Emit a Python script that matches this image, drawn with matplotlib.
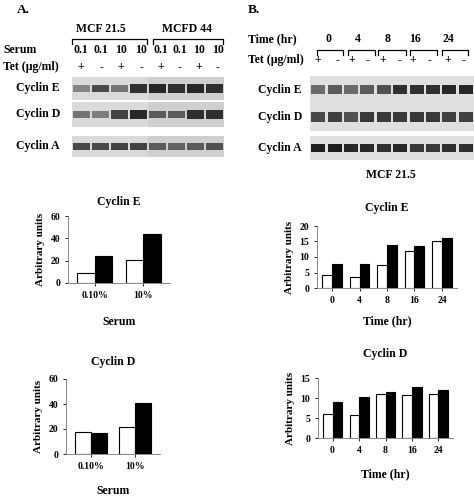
import matplotlib
matplotlib.use("Agg")
import matplotlib.pyplot as plt
import numpy as np

plt.rcParams['font.family'] = ['Liberation Serif', 'DejaVu Serif']
plt.rcParams['font.weight'] = 'bold'

# bar chart data
serum_labels = ['0.10%', '10%']
a_cycE_tet_plus = [9, 21]
a_cycE_tet_minus = [24, 44]
a_cycD_tet_plus = [18, 22]
a_cycD_tet_minus = [17, 41]

time_labels = ['0', '4', '8', '16', '24']
b_cycE_tet_plus = [4.2, 3.6, 7.3, 12, 15]
b_cycE_tet_minus = [7.6, 7.6, 14, 13.5, 16]
b_cycD_tet_plus = [6, 5.7, 11, 10.7, 11]
b_cycD_tet_minus = [9, 10.3, 11.5, 12.7, 12]

# blot band darkness (0..1) per lane
blot_a_mcf = {'E': [0.35, 0.7, 0.45, 0.85], 'D': [0.45, 0.4, 0.75, 0.9], 'A': [0.7, 0.7, 0.75, 0.75]}
blot_a_mcfd = {'E': [0.9, 0.85, 0.9, 0.85], 'D': [0.6, 0.6, 0.85, 0.85], 'A': [0.6, 0.55, 0.6, 0.65]}
blot_b = {'E': [0.5, 0.6, 0.5, 0.6, 0.65, 0.85, 0.85, 0.85, 0.9, 0.9],
          'D': [0.7, 0.75, 0.65, 0.8, 0.8, 0.8, 0.8, 0.8, 0.75, 0.75],
          'A': [0.95, 0.95, 0.9, 0.9, 0.85, 0.9, 0.8, 0.8, 0.85, 0.85]}

W, H = 474, 496
fig = plt.figure(figsize=(W / 100, H / 100), dpi=100)


def px_axes(x0, y0, x1, y1):
    return fig.add_axes([x0 / W, 1 - y1 / H, (x1 - x0) / W, (y1 - y0) / H])


def txt(x, y, s, size=8.5, ha='left'):
    fig.text(x / W, 1 - y / H, s, fontsize=size, ha=ha, va='center', fontweight='bold')


def blot(x0, y0, x1, y1, vals, bg='#dadada'):
    ax = px_axes(x0, y0, x1, y1)
    ax.set_facecolor(bg)
    n = len(vals)
    for p, v in zip(np.arange(n), vals):
        g = 1 - v
        ax.bar(p, 0.22 + 0.16 * v, bottom=0.5 - (0.11 + 0.08 * v), width=0.85,
               color=(g * 0.75, g * 0.75, g * 0.75), alpha=0.9)
    ax.set_xlim(-0.5, n - 0.5)
    ax.set_ylim(0, 1)
    ax.set_xticks([])
    ax.set_yticks([])
    for s in ax.spines.values():
        s.set_visible(False)


def bars(x0, y0, x1, y1, labels, plus, minus, ymax, step, title, xlabel, title_dy, xlab_dy):
    ax = px_axes(x0, y0, x1, y1)
    x = np.arange(len(labels))
    w = 0.36
    ax.bar(x - w / 2, plus, w, color='white', edgecolor='black', linewidth=0.8)
    ax.bar(x + w / 2, minus, w, color='black', edgecolor='black', linewidth=0.8)
    ax.set_xlim(-0.55, len(labels) - 0.45)
    ax.set_ylim(0, ymax)
    ax.set_yticks(np.arange(0, ymax + 0.1, step))
    ax.set_xticks(x)
    ax.set_xticklabels(labels)
    ax.tick_params(labelsize=7, length=2, width=0.6)
    ax.spines['top'].set_visible(False)
    ax.spines['right'].set_visible(False)
    for s in ('left', 'bottom'):
        ax.spines[s].set_color('#888888')
        ax.spines[s].set_linewidth(0.7)
    ax.set_ylabel('Arbitrary units', fontsize=8, fontweight='bold')
    ax.set_title(title, fontsize=8.5, fontweight='bold', pad=title_dy)
    ax.set_xlabel(xlabel, fontsize=8.5, fontweight='bold', labelpad=xlab_dy)
    return ax


# panel A blots
txt(17, 10, 'A.', 9.5)
txt(101, 29, 'MCF 21.5', ha='center')
txt(187, 29, 'MCFD 44', ha='center')
txt(3, 50, 'Serum')
txt(3, 67, 'Tet (\u00b5g/ml)')
a_serum = ['0.1', '0.1', '10', '10']
a_tet = ['+', '-', '+', '-']
for i, (s, t) in enumerate(zip(a_serum, a_tet)):
    txt(81 + i * 20, 50, s, ha='center')
    txt(81 + i * 20, 67, t, ha='center')
    txt(161 + i * 19, 50, s, ha='center')
    txt(161 + i * 19, 67, t, ha='center')
for k, (y0, y1, name) in zip('EDA', [(77, 100, 'Cyclin E'), (102, 127, 'Cyclin D'), (136, 157, 'Cyclin A')]):
    txt(16, (y0 + y1) / 2, name)
    blot(72, y0, 148, y1, blot_a_mcf[k])
    blot(148, y0, 224, y1, blot_a_mcfd[k], bg='#cfcfcf')

# panel B blots
txt(248, 10, 'B.', 9.5)
txt(248, 39, 'Time (hr)')
txt(248, 60, 'Tet (\u00b5g/ml)')
b_time_x = [328, 358, 388, 415, 448]
b_plus_x = [318, 352, 383, 413, 448]
b_minus_x = [338, 368, 400, 430, 463]
for t, xt, xp, xm in zip(time_labels, b_time_x, b_plus_x, b_minus_x):
    txt(xt, 39, t, ha='center')
    txt(xp, 60, '+', ha='center')
    txt(xm, 60, '-', ha='center')
for k, (y0, y1, name) in zip('EDA', [(76, 103, 'Cyclin E'), (103, 131, 'Cyclin D'), (136, 160, 'Cyclin A')]):
    txt(258, (y0 + y1) / 2, name)
    blot(310, y0, 474, y1, blot_b[k], bg='#e0e0e0')
txt(391, 175, 'MCF 21.5', ha='center')

# brackets
brackets = [(72, 147, 39), (153, 223, 39),
            (317, 343, 50), (348, 375, 50), (378, 406, 50), (410, 437, 50), (442, 468, 50)]
for x0, x1, y in brackets:
    fig.add_artist(plt.Line2D([x0 / W, x0 / W, x1 / W, x1 / W],
                              [1 - (y + 5) / H, 1 - y / H, 1 - y / H, 1 - (y + 5) / H],
                              color='black', linewidth=0.9))

# bar charts
bars(68, 216, 170, 283, serum_labels, a_cycE_tet_plus, a_cycE_tet_minus, 60, 20,
     'Cyclin E', 'Serum', 8, 12)
bars(66, 379, 160, 454, serum_labels, a_cycD_tet_plus, a_cycD_tet_minus, 60, 20,
     'Cyclin D', 'Serum', 10, 10)
bars(317, 226, 457, 288, time_labels, b_cycE_tet_plus, b_cycE_tet_minus, 20, 5,
     'Cyclin E', 'Time (hr)', 11, 8)
bars(318, 378, 453, 438, time_labels, b_cycD_tet_plus, b_cycD_tet_minus, 15, 5,
     'Cyclin D', 'Time (hr)', 15, 10)

fig.savefig('out.png', dpi=100)
